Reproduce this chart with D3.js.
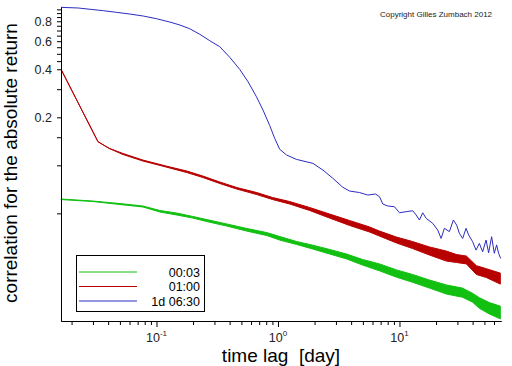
<!DOCTYPE html>
<html>
<head>
<meta charset="utf-8">
<script src="https://cdn.jsdelivr.net/npm/d3@7"></script>
<style>
  body { margin: 0; background: #fff; }
  svg { display: block; font-family: "Liberation Sans", Arial, sans-serif; }
</style>
</head>
<body>
<figure id="chart" style="margin:0"></figure>
<script>
// lag in days, correlation values
// 00:03 and 01:00 are noisy: keep upper/lower edge of the noise band
const lagGreen = [0.01637, 0.0300, 0.0500, 0.0773, 0.1066, 0.1471, 0.1991, 0.2595, 0.3790, 0.5531, 0.8075, 1.0327, 1.424, 1.928, 2.660, 3.668, 4.966, 6.850, 9.450, 12.79, 17.64, 24.33, 32.94, 39.81, 45.43, 54.90, 67.6];
const greenHigh = [0.0615, 0.0597, 0.0576, 0.0556, 0.0521, 0.0502, 0.0478, 0.0457, 0.0429, 0.0402, 0.0379, 0.0358, 0.0333, 0.0316, 0.0297, 0.0278, 0.0257, 0.0241, 0.0221, 0.0207, 0.0191, 0.0178, 0.0170, 0.0158, 0.0148, 0.0138, 0.0131];
const greenLow = [0.0610, 0.0593, 0.0568, 0.0548, 0.0510, 0.0488, 0.0467, 0.0444, 0.0416, 0.0387, 0.0363, 0.0340, 0.0319, 0.0299, 0.0278, 0.0259, 0.0237, 0.0218, 0.0199, 0.0185, 0.0170, 0.0156, 0.0149, 0.0139, 0.0127, 0.0117, 0.0109];

const lagRed = [0.01637, 0.0330, 0.0409, 0.0530, 0.0773, 0.1217, 0.1778, 0.2406, 0.3319, 0.4577, 0.6683, 0.9047, 1.248, 1.822, 2.660, 3.883, 5.668, 6.850, 9.450, 12.79, 17.64, 24.33, 29.41, 35.52, 42.93, 51.87, 67.6];
const redHigh = [0.400, 0.1406, 0.1278, 0.1186, 0.1079, 0.0987, 0.0921, 0.0857, 0.0786, 0.0726, 0.0675, 0.0628, 0.0593, 0.0544, 0.0495, 0.0451, 0.0411, 0.0387, 0.0355, 0.0333, 0.0308, 0.0290, 0.0276, 0.0270, 0.0235, 0.0225, 0.0211];
const redLow = [0.400, 0.1406, 0.1274, 0.1169, 0.1064, 0.0973, 0.0901, 0.0839, 0.0769, 0.0710, 0.0656, 0.0610, 0.0572, 0.0521, 0.0467, 0.0420, 0.0382, 0.0360, 0.0326, 0.0301, 0.0274, 0.0251, 0.0246, 0.0241, 0.0207, 0.0198, 0.0180];

const lagBlue = [0.01637, 0.0227, 0.0284, 0.0365, 0.0470, 0.0604, 0.0778, 0.1002, 0.1289, 0.1557,
  0.188, 0.2274, 0.2748, 0.332, 0.401, 0.484, 0.567, 0.6645, 0.7527, 0.8548,
  0.9395, 1.0327, 1.179, 1.416, 1.940, 2.343, 2.831, 3.421, 3.883, 4.692,
  5.490, 6.350, 6.850, 7.293, 8.014, 9.096, 10.0, 11.35, 12.86, 13.72,
  14.60, 15.54, 16.58, 18.77, 20.64, 22.01, 23.43, 25.75, 27.78, 29.57,
  31.12, 33.13, 35.32, 37.10, 40.03, 42.68, 45.43, 48.37, 51.58, 54.19,
  57.34, 60.33, 63.04, 65.45, 68.0];
const blueValues = [0.978, 0.969, 0.951, 0.932, 0.910, 0.888, 0.863, 0.830, 0.791, 0.758,
  0.718, 0.663, 0.604, 0.554, 0.4755, 0.3997, 0.3342, 0.2692, 0.2222, 0.1777,
  0.1477, 0.126, 0.1160, 0.1090, 0.1029, 0.0934, 0.0829, 0.0728, 0.0690, 0.0675,
  0.0651, 0.0661, 0.0636, 0.0572, 0.0556, 0.0550, 0.0504, 0.0512, 0.0519, 0.0488,
  0.0454, 0.0504, 0.0465, 0.0433, 0.0393, 0.0348, 0.0403, 0.0384, 0.0454, 0.0422,
  0.0375, 0.0348, 0.0403, 0.0366, 0.0332, 0.0294, 0.0324, 0.0287, 0.0340, 0.0283,
  0.0357, 0.0281, 0.0317, 0.0281, 0.0261];

const legendLabels = ["00:03", "01:00", "1d 06:30"];
const yLabelled = [0.2, 0.4, 0.6, 0.8];
const yTicks = [0.05, 0.1, 0.15, 0.2, 0.3, 0.4, 0.45, 0.5, 0.55, 0.6, 0.65, 0.7, 0.75, 0.8, 0.85, 0.9, 0.95];
const xMajor = [0.1, 1, 10];
const xExponents = ["-1", "0", "1"];
const xMinor = [0.02, 0.03, 0.04, 0.05, 0.06, 0.07, 0.08, 0.09,
  0.2, 0.3, 0.4, 0.5, 0.6, 0.7, 0.8, 0.9,
  2, 3, 4, 5, 6, 7, 8, 9, 20, 30, 40, 50, 60];

const colors = ["#12c012", "#b80000", "#2c2cc0"];

const width = 512, height = 366;
const margin = { top: 7, right: 11, bottom: 45, left: 61 };

const svg = d3.select("#chart").append("svg")
  .attr("width", width)
  .attr("height", height);

const x = d3.scaleLog().domain([0.01637, 68.5]).range([margin.left, width - margin.right]);
const y = d3.scaleLog().domain([0.01057, 0.983]).range([height - margin.bottom, margin.top]);

// noisy series as bands
const band = (lags, hi, lo) => d3.area()
  .x((d, i) => x(lags[i]))
  .y0((d, i) => y(lo[i]))
  .y1((d, i) => y(hi[i]))(lags);

svg.append("path")
  .attr("d", band(lagGreen, greenHigh, greenLow))
  .attr("fill", colors[0]).attr("stroke", colors[0]).attr("stroke-width", 1);

svg.append("path")
  .attr("d", band(lagRed, redHigh, redLow))
  .attr("fill", colors[1]).attr("stroke", colors[1]).attr("stroke-width", 1);

const line = d3.line()
  .x((d, i) => x(lagBlue[i]))
  .y(d => y(d));

svg.append("path")
  .datum(blueValues)
  .attr("d", line)
  .attr("fill", "none")
  .attr("stroke", colors[2])
  .attr("stroke-width", 1);

// x axis
const xAxisY = height - margin.bottom;
svg.append("g")
  .attr("transform", `translate(0,${xAxisY})`)
  .call(d3.axisBottom(x).tickValues(xMinor).tickSize(4).tickSizeOuter(0).tickFormat(""));
svg.append("g")
  .attr("transform", `translate(0,${xAxisY})`)
  .call(d3.axisBottom(x).tickValues(xMajor).tickSize(6).tickSizeOuter(0).tickFormat(""));

const xLab = svg.append("g").selectAll("text")
  .data(xMajor)
  .enter().append("text")
  .attr("x", d => x(d))
  .attr("y", 342)
  .attr("text-anchor", "middle")
  .attr("font-size", 12.5)
  .attr("fill", "#222");
xLab.append("tspan").text("10");
xLab.append("tspan").attr("dy", -6).attr("font-size", 8).text((d, i) => xExponents[i]);

// y axis
svg.append("g")
  .attr("transform", `translate(${margin.left},0)`)
  .call(d3.axisLeft(y).tickValues(yTicks).tickSize(4).tickSizeOuter(0).tickFormat(""));

svg.append("g").selectAll("text")
  .data(yLabelled)
  .enter().append("text")
  .attr("x", 52)
  .attr("y", d => y(d))
  .attr("dy", "0.38em")
  .attr("text-anchor", "end")
  .attr("font-size", 12.5)
  .attr("fill", "#222")
  .text(d => d);

svg.selectAll(".domain, .tick line").attr("stroke", "#000");

// axis titles
svg.append("text")
  .attr("x", 281)
  .attr("y", 362)
  .attr("text-anchor", "middle")
  .attr("font-size", 19)
  .text("time lag  [day]")
  .style("white-space", "pre");

svg.append("text")
  .attr("transform", "translate(17,163) rotate(-90)")
  .attr("text-anchor", "middle")
  .attr("font-size", 19)
  .text("correlation for the absolute return");

svg.append("text")
  .attr("x", 380)
  .attr("y", 17)
  .attr("font-size", 8)
  .attr("fill", "#222")
  .text("Copyright Gilles Zumbach 2012");

// legend
const legend = svg.append("g");
legend.append("rect")
  .attr("x", 76.5).attr("y", 255.5)
  .attr("width", 128).attr("height", 56)
  .attr("fill", "#fff").attr("stroke", "#000");

const rows = legend.selectAll("g.row")
  .data(legendLabels)
  .enter().append("g")
  .attr("transform", (d, i) => `translate(0,${272 + i * 14.5})`);
rows.append("line")
  .attr("x1", 79).attr("x2", 137)
  .attr("stroke", (d, i) => colors[i]);
rows.append("text")
  .attr("x", 200)
  .attr("dy", "0.36em")
  .attr("text-anchor", "end")
  .attr("font-size", 12.5)
  .text(d => d);
</script>
</body>
</html>
